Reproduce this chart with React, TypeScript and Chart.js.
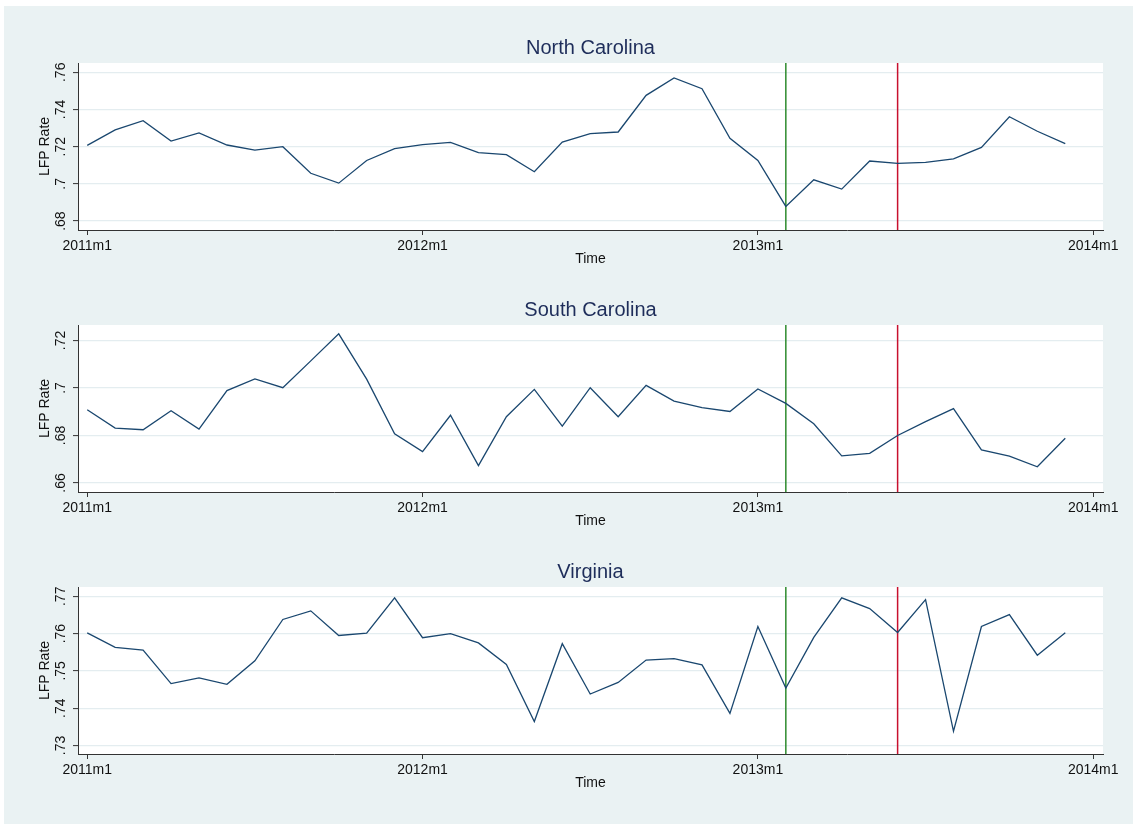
import React, { useEffect, useRef } from "react";
import { Chart, registerables } from "chart.js";

Chart.register(...registerables);

const months = [
  "2011m1", "2011m2", "2011m3", "2011m4", "2011m5", "2011m6", "2011m7", "2011m8", "2011m9", "2011m10", "2011m11", "2011m12",
  "2012m1", "2012m2", "2012m3", "2012m4", "2012m5", "2012m6", "2012m7", "2012m8", "2012m9", "2012m10", "2012m11", "2012m12",
  "2013m1", "2013m2", "2013m3", "2013m4", "2013m5", "2013m6", "2013m7", "2013m8", "2013m9", "2013m10", "2013m11", "2013m12",
];

// x ticks: month offsets from 2011m1 and their labels
const xTickMonths = [0, 12, 24, 36];
const xTickLabels = ["2011m1", "2012m1", "2013m1", "2014m1"];
const xRange = [-0.33, 36.35];

const eventMonths = ["2013m2", "2013m6"];
const eventColors = ["#2e8b2e", "#c8102e"];

const panelTitles = ["North Carolina", "South Carolina", "Virginia"];

const ncRate = [
  0.7207, 0.729, 0.734, 0.723, 0.7274, 0.7209, 0.7182, 0.72, 0.7057, 0.7004, 0.7126, 0.7189,
  0.7211, 0.7223, 0.7168, 0.7157, 0.7065, 0.7225, 0.727, 0.7279, 0.7476, 0.757, 0.7512, 0.7245,
  0.7126, 0.6879, 0.7022, 0.6972, 0.7123, 0.711, 0.7116, 0.7135, 0.7196, 0.7361, 0.7283, 0.7216,
];
const scRate = [
  0.6908, 0.6831, 0.6824, 0.6904, 0.6827, 0.6989, 0.7038, 0.7001, 0.7114, 0.7228, 0.7037, 0.6807,
  0.6732, 0.6885, 0.6673, 0.6879, 0.6994, 0.6839, 0.7001, 0.6879, 0.7011, 0.6945, 0.6917, 0.6901,
  0.6996, 0.6935, 0.6849, 0.6714, 0.6725, 0.68, 0.6858, 0.6913, 0.6739, 0.6713, 0.6668, 0.6788,
];
const vaRate = [
  0.7602, 0.7563, 0.7556, 0.7466, 0.7481, 0.7464, 0.7527, 0.7638, 0.7661, 0.7595, 0.7601, 0.7696,
  0.7589, 0.76, 0.7575, 0.7517, 0.7364, 0.7573, 0.7438, 0.7469, 0.7529, 0.7533, 0.7516, 0.7386,
  0.7619, 0.7454, 0.759, 0.7696, 0.7667, 0.7603, 0.7691, 0.7338, 0.7619, 0.7651, 0.7542, 0.7602,
];

const ncTicks = [0.68, 0.7, 0.72, 0.74, 0.76];
const scTicks = [0.66, 0.68, 0.7, 0.72];
const vaTicks = [0.73, 0.74, 0.75, 0.76, 0.77];

const ncRange = [0.6752, 0.765];
const scRange = [0.6562, 0.7265];
const vaRange = [0.7277, 0.7725];

const FONT = '"Liberation Sans", Arial, Helvetica, sans-serif';
const PANEL_STEP = 262;
const CANVAS_H = 280;
const WIDTH = 1133;

const fmt = (v: number) => v.toFixed(2).replace(/^0/, "").replace(/0+$/, "");

type PanelProps = {
  title: string;
  values: number[];
  yTicks: number[];
  yRange: number[];
  top: number;
};

function Panel({ title, values, yTicks, yRange, top }: PanelProps) {
  const ref = useRef<HTMLCanvasElement | null>(null);

  useEffect(() => {
    const canvas = ref.current;
    if (!canvas) return;

    const deco = {
      id: "stataDeco",
      beforeDraw(chart: any) {
        const { ctx, chartArea } = chart;
        ctx.save();
        ctx.fillStyle = "#ffffff";
        ctx.fillRect(chartArea.left, chartArea.top, chartArea.right - chartArea.left, chartArea.bottom - chartArea.top);
        ctx.restore();
      },
      afterDraw(chart: any) {
        const { ctx, chartArea } = chart;
        const yScale = chart.scales.y;
        const cx = (chartArea.left + chartArea.right) / 2;
        ctx.save();
        // panel title
        ctx.fillStyle = "#1e2d5a";
        ctx.font = `20px ${FONT}`;
        ctx.textAlign = "center";
        ctx.textBaseline = "middle";
        ctx.fillText(title, cx, 48);
        // y tick labels (rotated)
        ctx.fillStyle = "#111111";
        ctx.font = `14px ${FONT}`;
        yTicks.forEach((v) => {
          const y = yScale.getPixelForValue(v);
          ctx.save();
          ctx.translate(61, y);
          ctx.rotate(-Math.PI / 2);
          ctx.textAlign = "center";
          ctx.textBaseline = "middle";
          ctx.fillText(fmt(v), 0, 0);
          ctx.restore();
        });
        // y axis title
        ctx.save();
        ctx.translate(45, (chartArea.top + chartArea.bottom) / 2);
        ctx.rotate(-Math.PI / 2);
        ctx.textAlign = "center";
        ctx.textBaseline = "middle";
        ctx.fillText("LFP Rate", 0, 0);
        ctx.restore();
        // x axis title
        ctx.textAlign = "center";
        ctx.textBaseline = "middle";
        ctx.fillText("Time", cx, chartArea.bottom + 29);
        ctx.restore();
      },
    };

    const datasets: any[] = [
      {
        data: values.map((v, i) => ({ x: i, y: v })),
        borderColor: "#1a476f",
        borderWidth: 1.3,
        pointRadius: 0,
        tension: 0,
        order: 0,
      },
      ...eventMonths.map((m, k) => ({
        data: [
          { x: months.indexOf(m), y: yRange[0] },
          { x: months.indexOf(m), y: yRange[1] },
        ],
        borderColor: eventColors[k],
        borderWidth: 1.5,
        pointRadius: 0,
        order: 1,
      })),
    ];

    const chart = new Chart(canvas, {
      type: "line",
      data: { datasets },
      options: {
        animation: false,
        responsive: false,
        devicePixelRatio: 1,
        events: [],
        layout: { padding: { top: 63, right: 30, left: 0, bottom: CANVAS_H - PANEL_STEP } },
        plugins: {
          legend: { display: false },
          title: { display: false },
          tooltip: { enabled: false },
        },
        scales: {
          x: {
            type: "linear",
            min: xRange[0],
            max: xRange[1],
            afterBuildTicks: (s: any) => {
              s.ticks = xTickMonths.map((v) => ({ value: v }));
            },
            afterFit: (s: any) => {
              s.height = 32;
            },
            ticks: {
              callback: (_v: any, i: number) => xTickLabels[i],
              font: { family: FONT, size: 14 },
              color: "#111111",
              maxRotation: 0,
              minRotation: 0,
              autoSkip: false,
              padding: 3,
            },
            grid: { drawOnChartArea: false, drawTicks: true, tickLength: 5, tickColor: "#333333" },
            border: { display: true, color: "#333333", width: 1 },
          },
          y: {
            type: "linear",
            min: yRange[0],
            max: yRange[1],
            afterBuildTicks: (s: any) => {
              s.ticks = yTicks.map((v) => ({ value: v }));
            },
            afterFit: (s: any) => {
              s.width = 78;
            },
            ticks: { display: false },
            grid: { color: "#e4edf0", lineWidth: 1.2, drawTicks: true, tickLength: 5, tickColor: "#333333", tickWidth: 1 },
            border: { display: true, color: "#333333", width: 1 },
          },
        },
      } as any,
      plugins: [deco],
    });

    return () => chart.destroy();
  }, [title, values, yTicks, yRange]);

  return (
    <canvas
      ref={ref}
      width={WIDTH}
      height={CANVAS_H}
      style={{ position: "absolute", left: 0, top, width: WIDTH, height: CANVAS_H, display: "block" }}
    />
  );
}

export default function App() {
  const panels = [
    { values: ncRate, yTicks: ncTicks, yRange: ncRange },
    { values: scRate, yTicks: scTicks, yRange: scRange },
    { values: vaRate, yTicks: vaTicks, yRange: vaRange },
  ];
  return (
    <div style={{ position: "absolute", left: 0, top: 0, width: WIDTH, height: 824, background: "#ffffff", overflow: "hidden" }}>
      <div style={{ position: "absolute", left: 4, top: 6, right: 0, bottom: 0, background: "#eaf2f3" }} />
      {panels.map((p, k) => (
        <Panel key={k} title={panelTitles[k]} values={p.values} yTicks={p.yTicks} yRange={p.yRange} top={k * PANEL_STEP} />
      ))}
    </div>
  );
}
